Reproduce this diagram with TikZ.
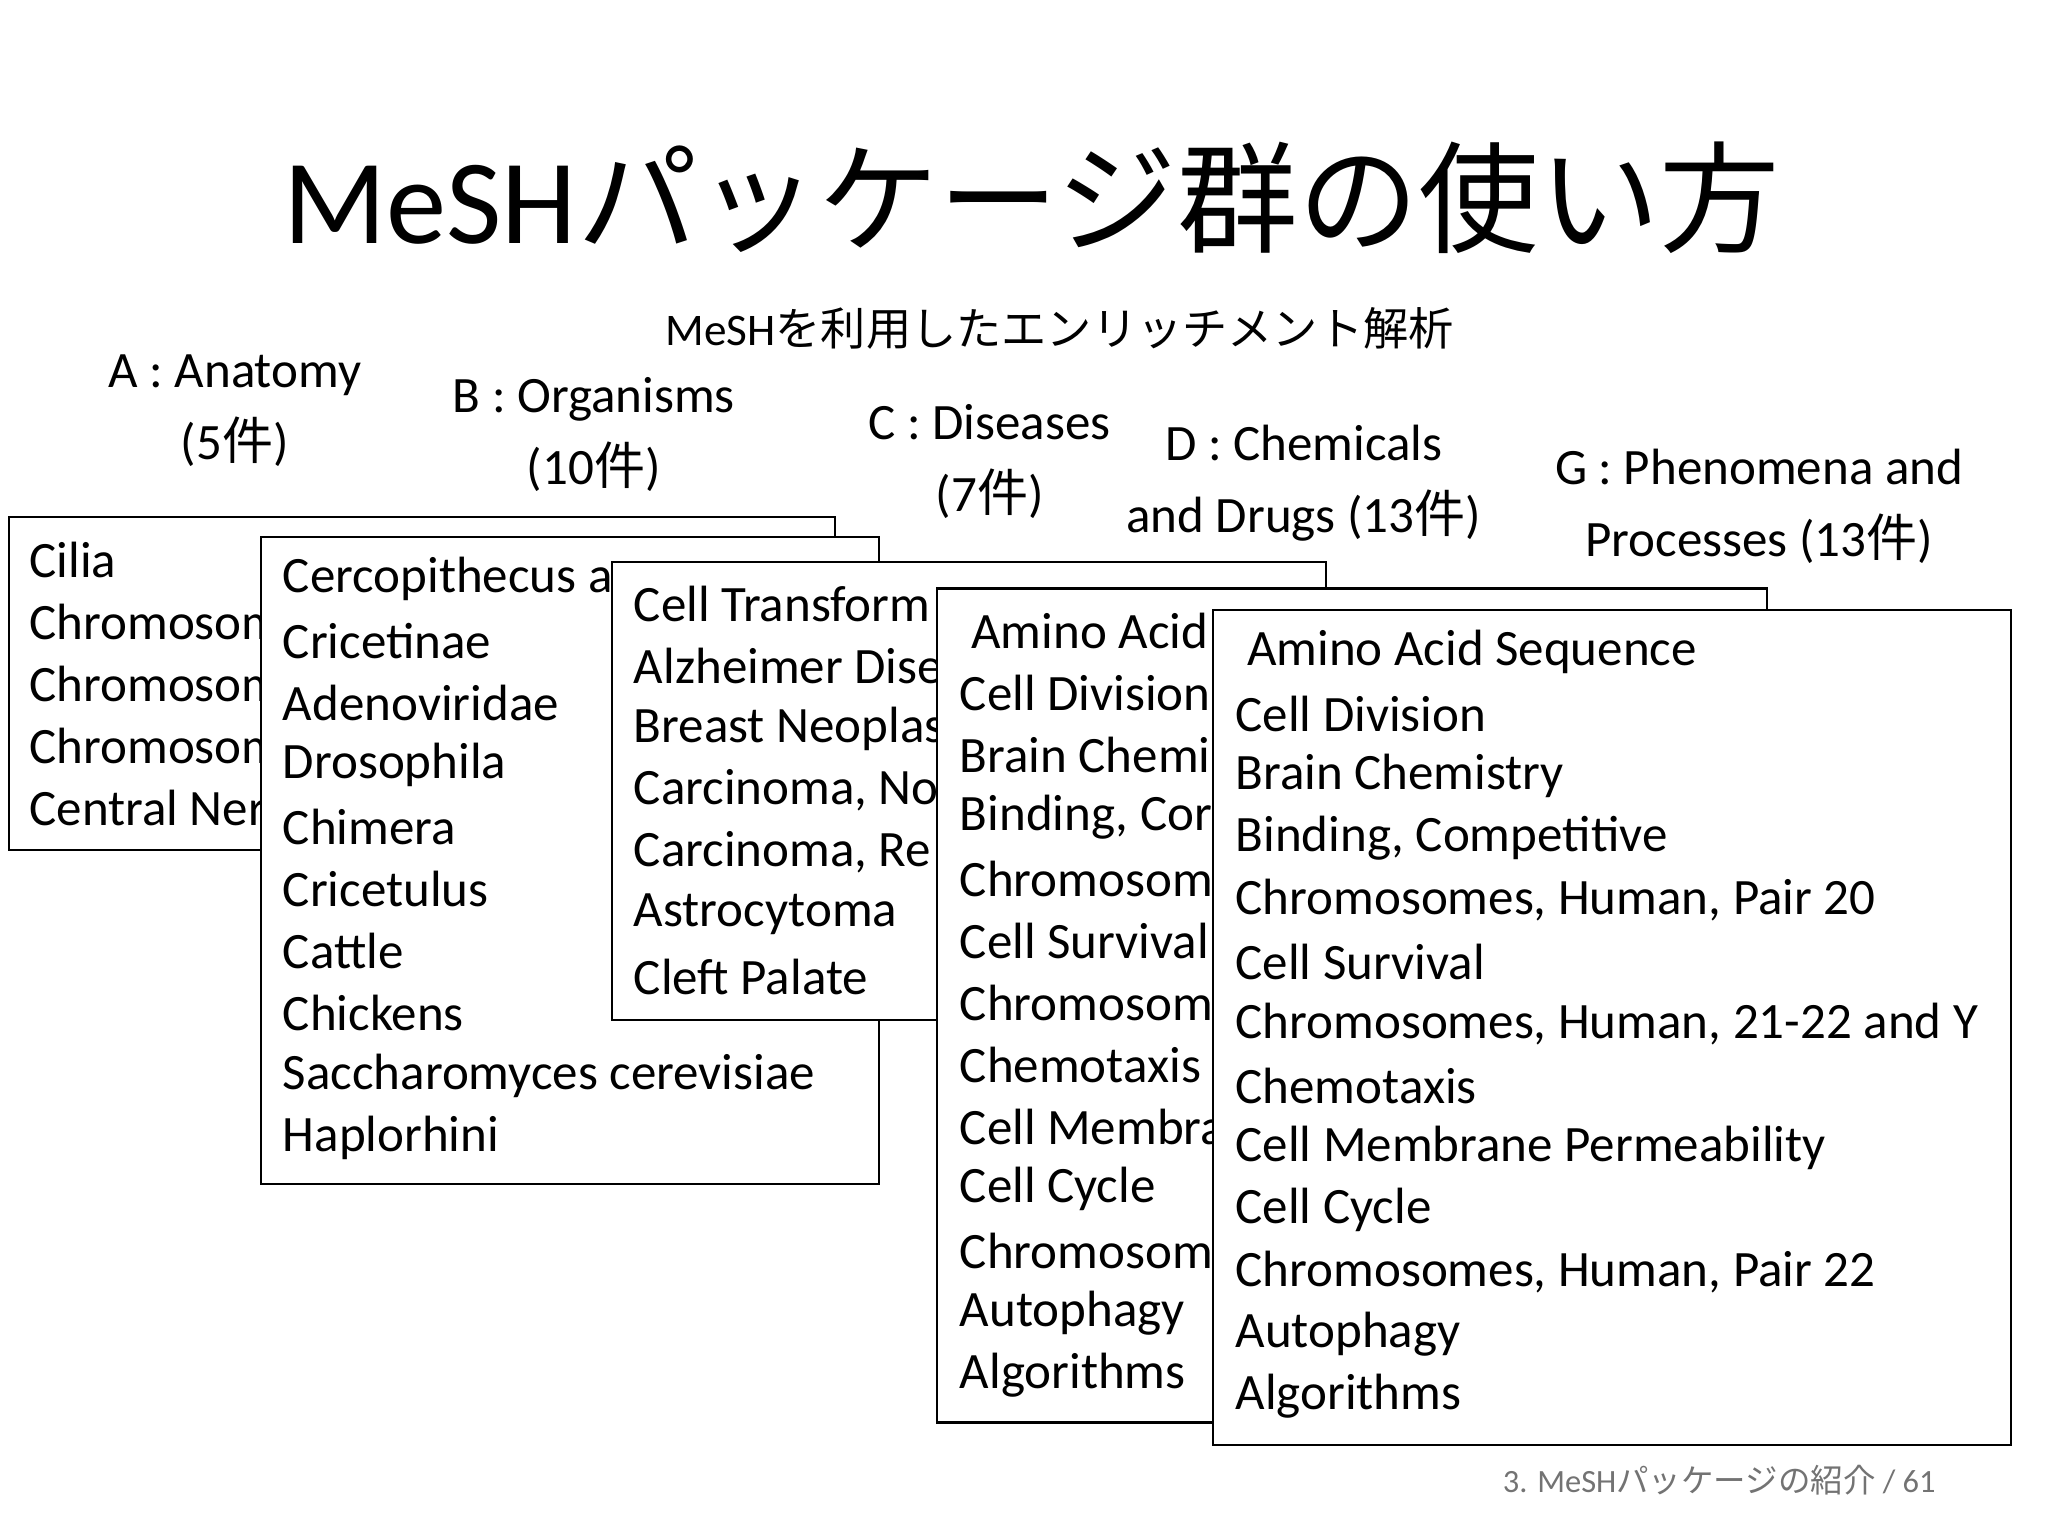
\documentclass[tikz,border=0pt]{standalone}
\usepackage{fontspec}
\setmainfont{Carlito}
\newfontfamily\jp{Noto Sans CJK JP}
\begin{document}
\begin{tikzpicture}[x=0.02cm,y=-0.02cm,
  box/.style={draw=black,line width=1pt,fill=white},
  item/.style={anchor=west,inner sep=0pt,font=\fontsize{22}{26}\selectfont},
  hdr/.style={align=center,font=\fontsize{22}{31}\selectfont}]
\useasboundingbox (0,0) rectangle (1552,1164);
\node (title) at (782,150) {\fontsize{52}{56}\selectfont MeSH{\jp パッケージ群の使い方}};
\node (sub) at (803,249) {\fontsize{19.5}{24}\selectfont MeSH{\jp を利用したエンリッチメント解析}};
\node[hdr] (hA) at (178,311) {A : Anatomy\\(5{\jp 件})};
\node[hdr] (hB) at (450,329) {B : Organisms\\(10{\jp 件})};
\node[hdr] (hC) at (750,350) {C : Diseases\\(7{\jp 件})};
\node[hdr] (hD) at (988,366) {D : Chemicals\\and Drugs (13{\jp 件})};
\node[hdr] (hG) at (1333,384) {G : Phenomena and\\Processes (13{\jp 件})};
% A
\draw[box] (7,392) rectangle (633,644);
\foreach \t [count=\i from 0] in {Cilia,Chromosom,Chromosom,Chromosom,Central Ner}
  \node[item] (a\i) at (22,424+47*\i) {\t};
% B
\draw[box] (198,407) rectangle (666,897);
\foreach \t [count=\i from 0] in {Cercopithecus a,Cricetinae,Adenoviridae,Drosophila,Chimera,Cricetulus,Cattle,Chickens,Saccharomyces cerevisiae,Haplorhini}
  \node[item] (b\i) at (214,439+47*\i) {\t};
% C
\draw[box] (464,426) rectangle (1005,773);
\foreach \t [count=\i from 0] in {Cell Transform,Alzheimer Dise,Breast Neoplas,{Carcinoma, No},{Carcinoma, Re},Astrocytoma,Cleft Palate}
  \node[item] (c\i) at (480,458+47*\i) {\t};
% D
\draw[box] (710,446) rectangle (1339,1078);
\foreach \t [count=\i from 0] in {{\ Amino Acid},Cell Division,Brain Chemi,{Binding, Cor},Chromosom,Cell Survival,Chromosom,Chemotaxis,Cell Membra,Cell Cycle,Chromosom,Autophagy,Algorithms}
  \node[item] (d\i) at (727,478+47*\i) {\t};
% G
\draw[box] (919,462) rectangle (1524,1095);
\foreach \t [count=\i from 0] in {{\ Amino Acid Sequence},Cell Division,Brain Chemistry,{Binding, Competitive},{Chromosomes, Human, Pair 20},Cell Survival,{Chromosomes, Human, 21-22 and Y},Chemotaxis,Cell Membrane Permeability,Cell Cycle,{Chromosomes, Human, Pair 22},Autophagy,Algorithms}
  \node[item] (g\i) at (936,494+47*\i) {\t};
\node[anchor=east,text=black!55] (foot) at (1473,1122) {\fontsize{14}{16}\selectfont 3. MeSH{\jp パッケージの紹介} / 61};
\end{tikzpicture}
\end{document}
